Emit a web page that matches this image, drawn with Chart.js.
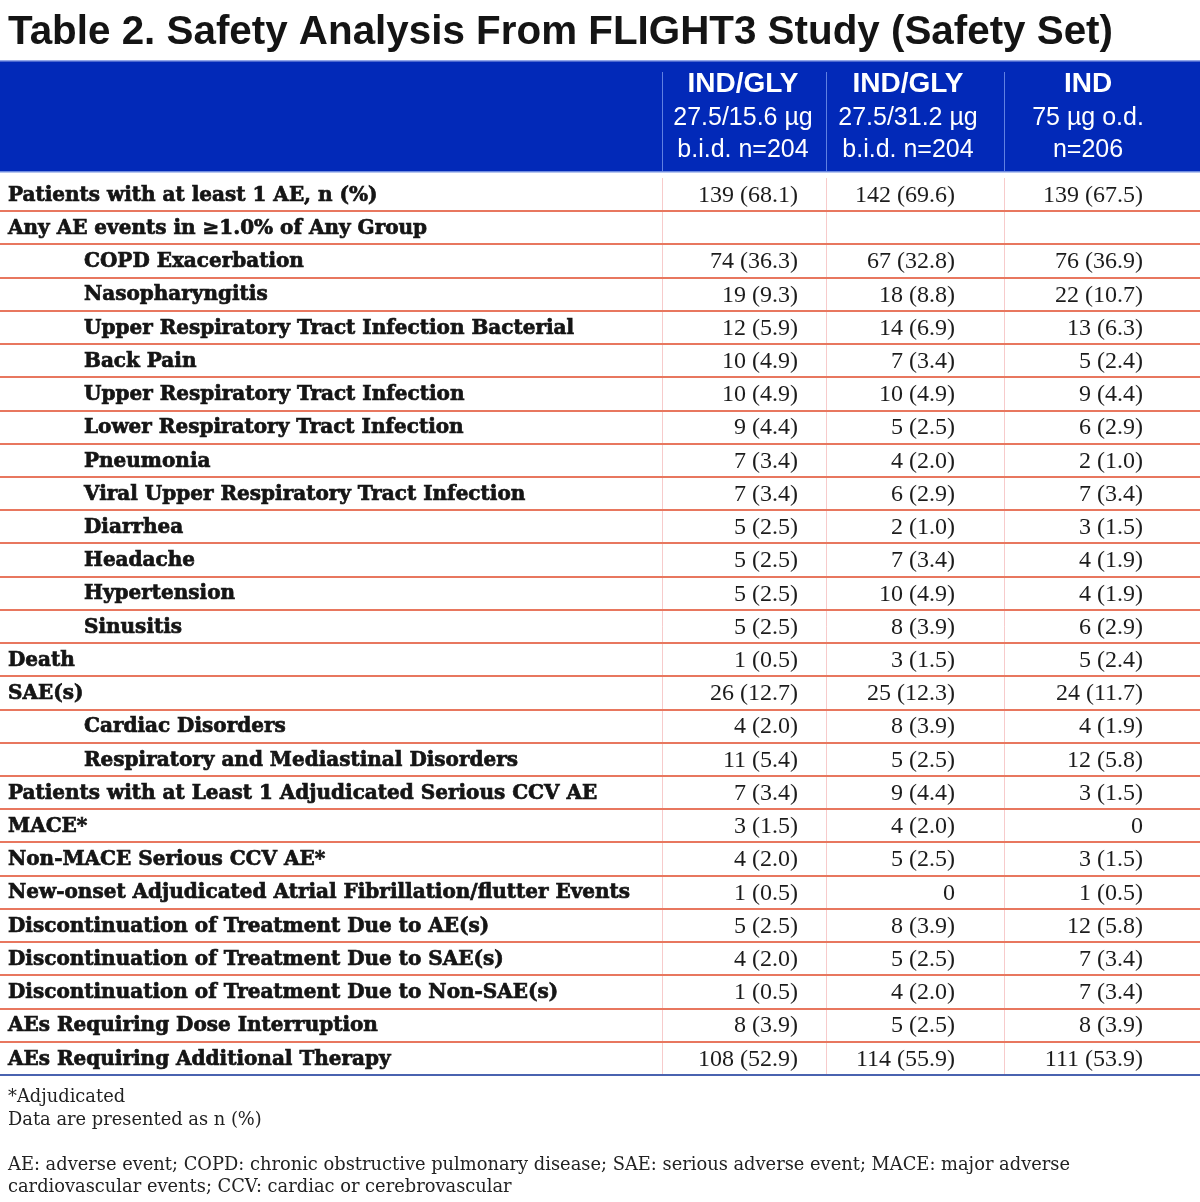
<!DOCTYPE html>
<html>
<head>
<meta charset="utf-8">
<script src="https://cdn.jsdelivr.net/npm/chart.js@4.4.1/dist/chart.umd.min.js"></script>
<style>
  html, body { margin: 0; padding: 0; background: #fff; }
  canvas { display: block; }
</style>
</head>
<body>
<canvas id="table" width="1200" height="1202"></canvas>
<script>
// ---- data ----
const title = 'Table 2. Safety Analysis From FLIGHT3 Study (Safety Set)';

const groupHeaders = [
  ['IND/GLY', '27.5/15.6 µg', 'b.i.d. n=204'],
  ['IND/GLY', '27.5/31.2 µg', 'b.i.d. n=204'],
  ['IND', '75 µg o.d.', 'n=206']
];

const rowLabels = [
  'Patients with at least 1 AE, n (%)',
  'Any AE events in \u22651.0% of Any Group',
  'COPD Exacerbation',
  'Nasopharyngitis',
  'Upper Respiratory Tract Infection Bacterial',
  'Back Pain',
  'Upper Respiratory Tract Infection',
  'Lower Respiratory Tract Infection',
  'Pneumonia',
  'Viral Upper Respiratory Tract Infection',
  'Diarrhea',
  'Headache',
  'Hypertension',
  'Sinusitis',
  'Death',
  'SAE(s)',
  'Cardiac Disorders',
  'Respiratory and Mediastinal Disorders',
  'Patients with at Least 1 Adjudicated Serious CCV AE',
  'MACE*',
  'Non-MACE Serious CCV AE*',
  'New-onset Adjudicated Atrial Fibrillation/flutter Events',
  'Discontinuation of Treatment Due to AE(s)',
  'Discontinuation of Treatment Due to SAE(s)',
  'Discontinuation of Treatment Due to Non-SAE(s)',
  'AEs Requiring Dose Interruption',
  'AEs Requiring Additional Therapy'
];

// 1 = sub-item (indented)
const rowIndent = [0, 0, 1, 1, 1, 1, 1, 1, 1, 1, 1, 1, 1, 1, 0, 0, 1, 1, 0, 0, 0, 0, 0, 0, 0, 0, 0];

const glyLowN   = [139, null, 74, 19, 12, 10, 10, 9, 7, 7, 5, 5, 5, 5, 1, 26, 4, 11, 7, 3, 4, 1, 5, 4, 1, 8, 108];
const glyLowPct = [68.1, null, 36.3, 9.3, 5.9, 4.9, 4.9, 4.4, 3.4, 3.4, 2.5, 2.5, 2.5, 2.5, 0.5, 12.7, 2.0, 5.4, 3.4, 1.5, 2.0, 0.5, 2.5, 2.0, 0.5, 3.9, 52.9];

const glyHighN   = [142, null, 67, 18, 14, 7, 10, 5, 4, 6, 2, 7, 10, 8, 3, 25, 8, 5, 9, 4, 5, 0, 8, 5, 4, 5, 114];
const glyHighPct = [69.6, null, 32.8, 8.8, 6.9, 3.4, 4.9, 2.5, 2.0, 2.9, 1.0, 3.4, 4.9, 3.9, 1.5, 12.3, 3.9, 2.5, 4.4, 2.0, 2.5, null, 3.9, 2.5, 2.0, 2.5, 55.9];

const indN   = [139, null, 76, 22, 13, 5, 9, 6, 2, 7, 3, 4, 4, 6, 5, 24, 4, 12, 3, 0, 3, 1, 12, 7, 7, 8, 111];
const indPct = [67.5, null, 36.9, 10.7, 6.3, 2.4, 4.4, 2.9, 1.0, 3.4, 1.5, 1.9, 1.9, 2.9, 2.4, 11.7, 1.9, 5.8, 1.5, null, 1.5, 0.5, 5.8, 3.4, 3.4, 3.9, 53.9];

const footnotes = [
  '*Adjudicated',
  'Data are presented as n (%)',
  '',
  'AE: adverse event; COPD: chronic obstructive pulmonary disease; SAE: serious adverse event; MACE: major adverse',
  'cardiovascular events; CCV: cardiac or cerebrovascular'
];

// ---- layout ----
const colEdges = [662, 826, 1004];       // x-scale values of the column dividers
const valueRight = [798, 955, 1143];     // right edge of the numbers in each column
const headerCenter = [743, 908, 1088];
const series = [
  { n: glyLowN, pct: glyLowPct },
  { n: glyHighN, pct: glyHighPct },
  { n: indN, pct: indPct }
];

const BLUE = '#0229b8';
const SALMON = '#e8775f';

function cellText(n, pct) {
  if (n === null) return '';
  return pct === null ? String(n) : n + ' (' + pct.toFixed(1) + ')';
}

// draw text squeezed horizontally so it spans a given width
function drawFitted(ctx, text, x, y, font, width) {
  ctx.font = font;
  const w = ctx.measureText(text).width;
  const sx = Math.min(1, width / w);
  ctx.save();
  ctx.translate(x, y);
  ctx.scale(sx, 1);
  ctx.fillText(text, 0, 0);
  ctx.restore();
  return sx;
}

const tablePlugin = {
  id: 'tableText',
  beforeDraw(chart) {
    const { ctx, width, height } = chart;
    ctx.save();
    ctx.fillStyle = '#fff';
    ctx.fillRect(0, 0, width, height);
    ctx.restore();
  },
  afterDraw(chart) {
    const { ctx, scales: { x, y } } = chart;
    ctx.save();

    // title
    ctx.fillStyle = '#141414';
    ctx.textAlign = 'left';
    ctx.textBaseline = 'alphabetic';
    drawFitted(ctx, title, 8, 44, 'bold 41px "Liberation Sans", Arial, sans-serif', 1105);

    // header band
    ctx.fillStyle = BLUE;
    ctx.fillRect(0, 61, 1200, 111);
    ctx.fillStyle = '#93a6e8';
    ctx.fillRect(0, 60, 1200, 1.5);
    ctx.fillStyle = '#6f8ce0';
    ctx.fillRect(0, 171, 1200, 1.5);

    ctx.strokeStyle = 'rgba(120,150,235,0.8)';
    ctx.lineWidth = 1;
    colEdges.forEach(v => {
      const px = Math.round(x.getPixelForValue(v)) + 0.5;
      ctx.beginPath();
      ctx.moveTo(px, 72);
      ctx.lineTo(px, 171);
      ctx.stroke();
    });

    ctx.fillStyle = '#fff';
    ctx.textAlign = 'center';
    ctx.textBaseline = 'middle';
    groupHeaders.forEach((lines, k) => {
      const cx = x.getPixelForValue(headerCenter[k]);
      ctx.font = 'bold 28px "Liberation Sans", Arial, sans-serif';
      ctx.fillText(lines[0], cx, 84);
      ctx.font = '25px "Liberation Sans", Arial, sans-serif';
      ctx.fillText(lines[1], cx, 118);
      ctx.fillText(lines[2], cx, 150);
    });

    // longest label sets the horizontal squeeze for all labels
    const labelFont = 'bold 20px "DejaVu Serif", serif';
    ctx.font = labelFont;
    const longest = 'New-onset Adjudicated Atrial Fibrillation/flutter Events';
    const labelSx = Math.min(1, 633 / ctx.measureText(longest).width);

    rowLabels.forEach((label, i) => {
      const cy = y.getPixelForValue(i);
      ctx.fillStyle = '#151515';
      ctx.strokeStyle = '#151515';
      ctx.lineWidth = 0.7;
      ctx.textAlign = 'left';
      ctx.textBaseline = 'middle';
      ctx.font = labelFont;
      ctx.save();
      ctx.translate(rowIndent[i] ? 84 : 8, cy + 1);
      ctx.scale(labelSx, 1);
      ctx.fillText(label, 0, 0);
      ctx.strokeText(label, 0, 0);
      ctx.restore();

      ctx.textAlign = 'right';
      ctx.font = '24px "Liberation Serif", "Times New Roman", serif';
      ctx.fillStyle = '#1c1c1c';
      series.forEach((s, k) => {
        ctx.fillText(cellText(s.n[i], s.pct[i]), x.getPixelForValue(valueRight[k]), cy + 1);
      });
    });

    // footnotes
    ctx.fillStyle = '#222';
    ctx.textAlign = 'left';
    ctx.textBaseline = 'alphabetic';
    const noteFont = '18px "DejaVu Serif", serif';
    ctx.font = noteFont;
    const noteSx = Math.min(1, 1062 / ctx.measureText(footnotes[3]).width);
    footnotes.forEach((line, i) => {
      if (!line) return;
      ctx.save();
      ctx.translate(8, 1102 + i * 22.5);
      ctx.scale(noteSx, 1);
      ctx.fillText(line, 0, 0);
      ctx.restore();
    });

    ctx.restore();
  }
};

new Chart(document.getElementById('table'), {
  type: 'bar',
  data: {
    labels: rowLabels,
    datasets: [{ data: [], backgroundColor: 'transparent' }]
  },
  options: {
    indexAxis: 'y',
    responsive: false,
    animation: false,
    devicePixelRatio: 1,
    layout: { padding: { top: 178, bottom: 127, left: 0, right: 0 } },
    plugins: { legend: { display: false }, tooltip: { enabled: false } },
    scales: {
      x: {
        type: 'linear',
        min: 0,
        max: 1200,
        afterBuildTicks: axis => { axis.ticks = colEdges.map(v => ({ value: v })); },
        ticks: { display: false },
        border: { display: false },
        grid: { color: 'rgba(240,160,160,0.55)', lineWidth: 1, drawTicks: false }
      },
      y: {
        type: 'category',
        offset: true,
        ticks: { display: false },
        border: { display: false },
        grid: {
          offset: true,
          drawTicks: false,
          lineWidth: 2,
          color: ctx => {
            if (ctx.type !== 'tick') return '#4a63b0';   // closing line under the last row
            return ctx.index === 0 ? 'transparent' : SALMON;
          }
        }
      }
    }
  },
  plugins: [tablePlugin]
});
</script>
</body>
</html>
